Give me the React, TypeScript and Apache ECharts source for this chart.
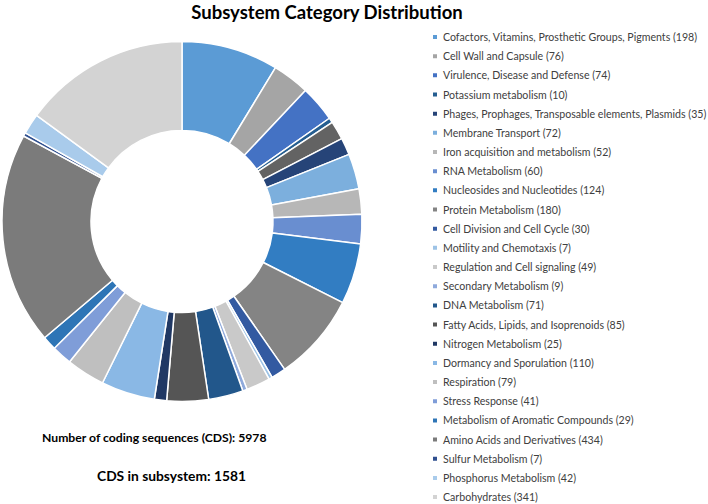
import React, { useEffect, useRef } from "react";
import * as echarts from "echarts";

const categories = [
  "Cofactors, Vitamins, Prosthetic Groups, Pigments",
  "Cell Wall and Capsule",
  "Virulence, Disease and Defense",
  "Potassium metabolism",
  "Miscellaneous",
  "Phages, Prophages, Transposable elements, Plasmids",
  "Membrane Transport",
  "Iron acquisition and metabolism",
  "RNA Metabolism",
  "Nucleosides and Nucleotides",
  "Protein Metabolism",
  "Cell Division and Cell Cycle",
  "Motility and Chemotaxis",
  "Regulation and Cell signaling",
  "Secondary Metabolism",
  "DNA Metabolism",
  "Fatty Acids, Lipids, and Isoprenoids",
  "Nitrogen Metabolism",
  "Dormancy and Sporulation",
  "Respiration",
  "Stress Response",
  "Metabolism of Aromatic Compounds",
  "Amino Acids and Derivatives",
  "Sulfur Metabolism",
  "Phosphorus Metabolism",
  "Carbohydrates",
];

const counts = [198, 76, 74, 10, 38, 35, 72, 52, 60, 124, 180, 30, 7, 49, 9, 71, 85, 25, 110, 79, 41, 29, 434, 7, 42, 341];

// the unnamed slice has no legend entry in the reference
const hiddenFromLegend = ["Miscellaneous"];

const colors = [
  "#5B9BD5", "#A5A5A5", "#4472C4",
  "#255E91", "#636363", "#264478",
  "#7CAFDD", "#B7B7B7", "#698ED0",
  "#327DC2", "#848484", "#335AA1",
  "#9DC3E6", "#C9C9C9", "#8FAADC",
  "#22578B", "#555555", "#203864",
  "#8AB8E5", "#BFBFBF", "#7F9DD8",
  "#2E75B6", "#7B7B7B", "#2F4F8F",
  "#A9CBEB", "#D3D3D3",
];

const titleText = "Subsystem Category Distribution";
const totalCdsText = "Number of coding sequences (CDS): 5978";
const subsystemCdsText = "CDS in subsystem: 1581";

export default function App() {
  const ref = useRef<HTMLDivElement>(null);

  useEffect(() => {
    if (!ref.current) return;
    const chart = echarts.init(ref.current, null, { renderer: "svg" });
    const data = categories.map((name, i) => ({
      name,
      value: counts[i],
      itemStyle: { color: colors[i] },
    }));
    const legendNames = categories.filter((c) => !hiddenFromLegend.includes(c));
    const countByName: Record<string, number> = {};
    categories.forEach((c, i) => (countByName[c] = counts[i]));

    chart.setOption({
      animation: false,
      backgroundColor: "#ffffff",
      title: {
        text: titleText,
        left: 322,
        top: -3,
        textAlign: "center",
        textStyle: {
          fontFamily: "Lato",
          fontWeight: "bold",
          fontSize: 18.5,
          color: "#000000",
        },
      },
      legend: {
        orient: "vertical",
        left: 426,
        top: 25,
        height: 490,
        data: legendNames,
        icon: "rect",
        itemWidth: 6,
        itemHeight: 6,
        itemGap: 5.17,
        selectedMode: false,
        formatter: (name: string) => `${name} (${countByName[name]})`,
        textStyle: {
          fontFamily: "Lato",
          fontSize: 10.6,
          lineHeight: 14,
          color: "#404040",
        },
      },
      graphic: [
        {
          type: "text",
          left: 42,
          top: 431,
          style: {
            text: totalCdsText,
            font: "bold 12.2px Lato",
            fill: "#000000",
          },
        },
        {
          type: "text",
          left: 97,
          top: 468,
          style: {
            text: subsystemCdsText,
            font: "bold 13.8px Lato",
            fill: "#000000",
          },
        },
      ],
      series: [
        {
          type: "pie",
          center: [182, 221.5],
          radius: [91, 180],
          startAngle: 90,
          clockwise: true,
          label: { show: false },
          labelLine: { show: false },
          emphasis: { disabled: true },
          itemStyle: { borderColor: "#ffffff", borderWidth: 1.5 },
          data,
        },
      ],
    });
    return () => chart.dispose();
  }, []);

  return (
    <div
      ref={ref}
      style={{ position: "fixed", left: 0, top: 0, width: 708, height: 504 }}
    />
  );
}
